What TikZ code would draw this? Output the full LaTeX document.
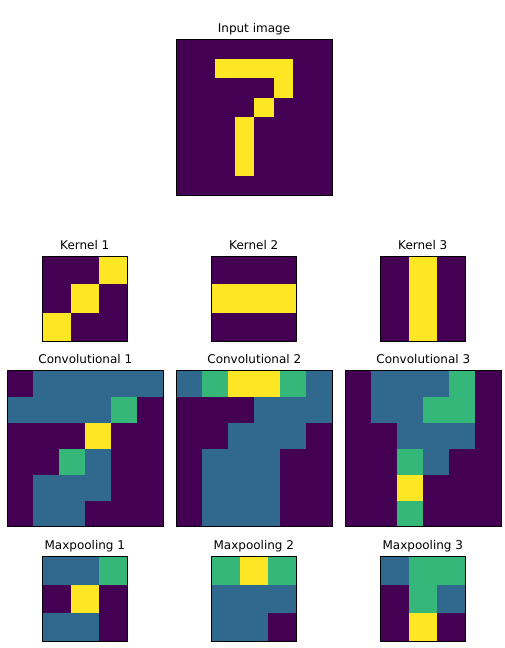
\documentclass[tikz,border=0pt]{standalone}
\usepackage{fontspec}
\setmainfont{DejaVu Sans}
\definecolor{vpurple}{HTML}{440154}
\definecolor{vblue}{HTML}{31688E}
\definecolor{vgreen}{HTML}{35B779}
\definecolor{vyellow}{HTML}{FDE725}
\begin{document}
\begin{tikzpicture}[x=1pt,y=-1pt,
  ttl/.style={anchor=base, inner sep=0pt, font=\fontsize{12}{14}\selectfont},
  frame/.style={draw=black, line width=0.8pt}]
\useasboundingbox (0,0) rectangle (504,648);
% titles
\node[ttl] (tin) at (254,32.4) {Input image};
\node[ttl] (tk1) at (84.8,249.3) {Kernel 1};
\node[ttl] (tk2) at (253.8,249.3) {Kernel 2};
\node[ttl] (tk3) at (422.8,249.3) {Kernel 3};
\node[ttl] (tc1) at (85.3,363.5) {Convolutional 1};
\node[ttl] (tc2) at (254.3,363.5) {Convolutional 2};
\node[ttl] (tc3) at (423.3,363.5) {Convolutional 3};
\node[ttl] (tm1) at (84.8,549.5) {Maxpooling 1};
\node[ttl] (tm2) at (253.8,549.5) {Maxpooling 2};
\node[ttl] (tm3) at (422.8,549.5) {Maxpooling 3};
% input image
\begin{scope}[shift={(176,39)},x=19.5pt,y=-19.5pt]
\fill[vpurple] (0,0) rectangle (8,8);
\fill[vyellow] (2,1) rectangle (6,2);
\fill[vyellow] (5,2) rectangle (6,3);
\fill[vyellow] (4,3) rectangle (5,4);
\fill[vyellow] (3,4) rectangle (4,7);
\draw[frame] (0,0) rectangle (8,8);
\end{scope}
% kernels
\begin{scope}[shift={(42.3,256)},x=28.47pt,y=-28.47pt]
\fill[vpurple] (0,0) rectangle (3,3);
\fill[vyellow] (2,0) rectangle (3,1);
\fill[vyellow] (1,1) rectangle (2,2);
\fill[vyellow] (0,2) rectangle (1,3);
\draw[frame] (0,0) rectangle (3,3);
\end{scope}
\begin{scope}[shift={(211.3,256)},x=28.47pt,y=-28.47pt]
\fill[vpurple] (0,0) rectangle (3,3);
\fill[vyellow] (0,1) rectangle (3,2);
\draw[frame] (0,0) rectangle (3,3);
\end{scope}
\begin{scope}[shift={(380.3,256)},x=28.47pt,y=-28.47pt]
\fill[vpurple] (0,0) rectangle (3,3);
\fill[vyellow] (1,0) rectangle (2,3);
\draw[frame] (0,0) rectangle (3,3);
\end{scope}
% convolutional
\begin{scope}[shift={(7.3,370.5)},x=26pt,y=-26pt]
\fill[vpurple] (0,0) rectangle (6,6);
\fill[vblue] (1,0) rectangle (6,1);
\fill[vblue] (0,1) rectangle (4,2);
\fill[vgreen] (4,1) rectangle (5,2);
\fill[vyellow] (3,2) rectangle (4,3);
\fill[vgreen] (2,3) rectangle (3,4);
\fill[vblue] (3,3) rectangle (4,4);
\fill[vblue] (1,4) rectangle (4,5);
\fill[vblue] (1,5) rectangle (3,6);
\draw[frame] (0,0) rectangle (6,6);
\end{scope}
\begin{scope}[shift={(176.3,370.5)},x=26pt,y=-26pt]
\fill[vpurple] (0,0) rectangle (6,6);
\fill[vblue] (0,0) rectangle (6,1);
\fill[vgreen] (1,0) rectangle (5,1);
\fill[vyellow] (2,0) rectangle (4,1);
\fill[vblue] (3,1) rectangle (6,2);
\fill[vblue] (2,2) rectangle (5,3);
\fill[vblue] (1,3) rectangle (4,6);
\draw[frame] (0,0) rectangle (6,6);
\end{scope}
\begin{scope}[shift={(345.3,370.5)},x=26pt,y=-26pt]
\fill[vpurple] (0,0) rectangle (6,6);
\fill[vblue] (1,0) rectangle (4,1);
\fill[vgreen] (4,0) rectangle (5,1);
\fill[vblue] (1,1) rectangle (3,2);
\fill[vgreen] (3,1) rectangle (5,2);
\fill[vblue] (2,2) rectangle (5,3);
\fill[vgreen] (2,3) rectangle (3,4);
\fill[vblue] (3,3) rectangle (4,4);
\fill[vyellow] (2,4) rectangle (3,5);
\fill[vgreen] (2,5) rectangle (3,6);
\draw[frame] (0,0) rectangle (6,6);
\end{scope}
% maxpooling
\begin{scope}[shift={(42.3,556.3)},x=28.47pt,y=-28.47pt]
\fill[vpurple] (0,0) rectangle (3,3);
\fill[vblue] (0,0) rectangle (2,1);
\fill[vgreen] (2,0) rectangle (3,1);
\fill[vyellow] (1,1) rectangle (2,2);
\fill[vblue] (0,2) rectangle (2,3);
\draw[frame] (0,0) rectangle (3,3);
\end{scope}
\begin{scope}[shift={(211.3,556.3)},x=28.47pt,y=-28.47pt]
\fill[vpurple] (0,0) rectangle (3,3);
\fill[vgreen] (0,0) rectangle (3,1);
\fill[vyellow] (1,0) rectangle (2,1);
\fill[vblue] (0,1) rectangle (3,2);
\fill[vblue] (0,2) rectangle (2,3);
\draw[frame] (0,0) rectangle (3,3);
\end{scope}
\begin{scope}[shift={(380.3,556.3)},x=28.47pt,y=-28.47pt]
\fill[vpurple] (0,0) rectangle (3,3);
\fill[vblue] (0,0) rectangle (1,1);
\fill[vgreen] (1,0) rectangle (3,1);
\fill[vgreen] (1,1) rectangle (2,2);
\fill[vblue] (2,1) rectangle (3,2);
\fill[vyellow] (1,2) rectangle (2,3);
\draw[frame] (0,0) rectangle (3,3);
\end{scope}
\end{tikzpicture}
\end{document}
